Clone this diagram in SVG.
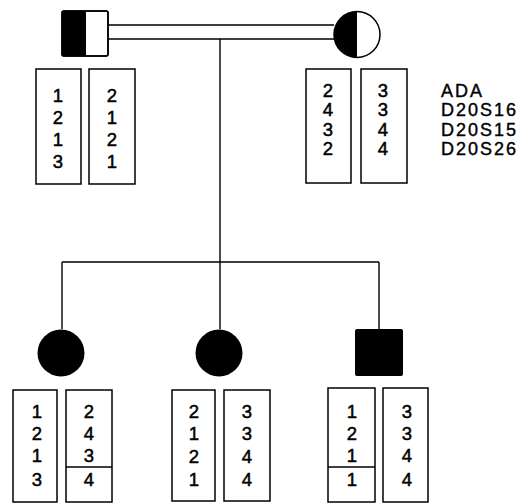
<svg xmlns="http://www.w3.org/2000/svg" width="520" height="504" viewBox="0 0 520 504">
<style>
.b{fill:#fff;stroke:#000;stroke-width:1.5}
.ln{fill:none;stroke:#000;stroke-width:1.4}
.d{font-family:"Liberation Sans",Arial,sans-serif;font-size:18.5px;text-anchor:middle;fill:#000;stroke:#000;stroke-width:0.5}
.lb{font-family:"Liberation Sans",Arial,sans-serif;font-size:18px;letter-spacing:2px;fill:#000;stroke:#000;stroke-width:0.4}
</style>
<g id="connectors">
<path class="ln" d="M108 25H334M108 39H334"/>
<path class="ln" d="M220 39V262M62 262H379M62 262V329M220 262V329M379 262V329"/>
</g>
<g id="father">
<rect x="62" y="11" width="46" height="45" rx="2" fill="#fff" stroke="#000" stroke-width="1.5"/>
<rect x="62" y="11" width="24" height="45" fill="#000"/>
<rect x="62" y="11" width="46" height="45" rx="2" fill="none" stroke="#000" stroke-width="1.5"/>
<rect class="b" x="36" y="69" width="45" height="115"/>
<rect class="b" x="89" y="69" width="46" height="115"/>
<text class="d" x="58" y="102">1</text><text class="d" x="58" y="124">2</text><text class="d" x="58" y="146">1</text><text class="d" x="58" y="168">3</text>
<text class="d" x="112" y="102">2</text><text class="d" x="112" y="124">1</text><text class="d" x="112" y="146">2</text><text class="d" x="112" y="168">1</text>
</g>
<g id="mother">
<circle cx="357" cy="34.5" r="23" fill="#fff" stroke="#000" stroke-width="1.5"/>
<path d="M357 11.5A23 23 0 0 0 357 57.5Z" fill="#000"/>
<rect class="b" x="306" y="69" width="45" height="114"/>
<rect class="b" x="361" y="69" width="46" height="114"/>
<text class="d" x="328" y="97">2</text><text class="d" x="328" y="116">4</text><text class="d" x="328" y="136">3</text><text class="d" x="328" y="155">2</text>
<text class="d" x="383" y="97">3</text><text class="d" x="383" y="116">3</text><text class="d" x="383" y="136">4</text><text class="d" x="383" y="155">4</text>
</g>
<g id="labels">
<text class="lb" x="441" y="97">ADA</text>
<text class="lb" x="441" y="116">D20S16</text>
<text class="lb" x="441" y="136">D20S15</text>
<text class="lb" x="441" y="155">D20S26</text>
</g>
<g id="child1">
<circle cx="61" cy="353" r="23.5" fill="#000"/>
<rect class="b" x="13" y="390" width="44" height="112"/>
<rect class="b" x="66" y="390" width="46" height="112"/>
<path class="ln" d="M66 467H112"/>
<text class="d" x="37" y="418">1</text><text class="d" x="37" y="440">2</text><text class="d" x="37" y="462">1</text><text class="d" x="37" y="486">3</text>
<text class="d" x="89" y="418">2</text><text class="d" x="89" y="440">4</text><text class="d" x="89" y="462">3</text><text class="d" x="89" y="486">4</text>
</g>
<g id="child2">
<circle cx="219" cy="353" r="23.5" fill="#000"/>
<rect class="b" x="172" y="390" width="43" height="111"/>
<rect class="b" x="224" y="390" width="46" height="111"/>
<text class="d" x="194" y="418">2</text><text class="d" x="194" y="440">1</text><text class="d" x="194" y="463">2</text><text class="d" x="194" y="486">1</text>
<text class="d" x="247" y="418">3</text><text class="d" x="247" y="440">3</text><text class="d" x="247" y="463">4</text><text class="d" x="247" y="486">4</text>
</g>
<g id="child3">
<rect x="355" y="329" width="48" height="47" rx="2" fill="#000"/>
<rect class="b" x="328" y="388" width="47" height="114"/>
<rect class="b" x="383" y="388" width="45" height="114"/>
<path class="ln" d="M328 467H375"/>
<text class="d" x="352" y="418">1</text><text class="d" x="352" y="440">2</text><text class="d" x="352" y="462">1</text><text class="d" x="352" y="486">1</text>
<text class="d" x="407" y="418">3</text><text class="d" x="407" y="440">3</text><text class="d" x="407" y="462">4</text><text class="d" x="407" y="486">4</text>
</g>
</svg>
